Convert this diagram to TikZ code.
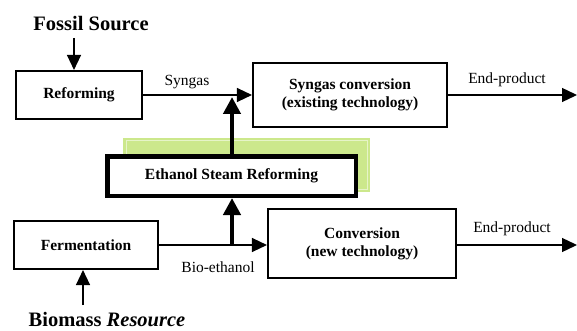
\documentclass[tikz,border=0pt]{standalone}
\usepackage{fontspec}
\setmainfont{Liberation Serif}
\usetikzlibrary{arrows.meta}
\definecolor{leaf}{RGB}{204,232,140}
\definecolor{leaflight}{RGB}{230,244,200}
\begin{document}
\begin{tikzpicture}[x=1pt,y=-1pt,
  box/.style={draw,line width=1.7pt,inner sep=0pt,align=center,font=\fontsize{15.5}{18}\selectfont\bfseries},
  lbl/.style={font=\fontsize{15.5}{18}\selectfont,inner sep=0pt},
  big/.style={font=\fontsize{20.5}{24}\selectfont\bfseries,inner sep=0pt},
  flow/.style={line width=1.3pt,-{Triangle[length=15pt,width=14pt]}},
  heavyflow/.style={line width=4.5pt,-{Triangle[length=17pt,width=17pt]}},
]
\useasboundingbox (0,0) rectangle (577,331);

% green highlight behind the ESR box
\fill[leaf] (123,138) rectangle (370,192);
\draw[leaflight,line width=1pt] (126,141) rectangle (367,189);

\node[box,minimum width=126.4pt,minimum height=48.4pt] (reform) at (79,95) {Reforming};
\node[box,minimum width=194.4pt,minimum height=64.4pt] (sconv) at (350,95) {Syngas conversion\\(existing technology)};
\node[box,line width=4.5pt,fill=white,minimum width=248.5pt,minimum height=39.5pt] (esr) at (231.5,176) {Ethanol Steam Reforming};
\node[box,minimum width=144.4pt,minimum height=48.4pt] (ferm) at (86,245) {Fermentation};
\node[box,minimum width=188.4pt,minimum height=69.4pt] (conv) at (362,243.5) {Conversion\\(new technology)};

\node[big] (fossil) at (91,24) {Fossil Source};
\node[big] (biomass) at (107,320) {Biomass \textit{Resource}};

\node[lbl] (syn) at (187,82) {Syngas};
\node[lbl] (ep1) at (507,80) {End-product};
\node[lbl] (ep2) at (512,229) {End-product};
\node[lbl] (bio) at (218,267) {Bio-ethanol};

\coordinate (fa) at (74,38);
\coordinate (ba) at (83,305);
\coordinate (j1) at (232,97);
\coordinate (j2) at (232,245);
\coordinate (e1) at (577,95);
\coordinate (e2) at (577,245);

\draw[flow] (fa) -- (fa |- reform.north);
\draw[flow] (ba) -- (ba |- ferm.south);
\draw[flow] (reform.east) -- (sconv.west);
\draw[flow] (ferm.east) -- (ferm.east -| conv.west);
\draw[flow] (sconv.east) -- (e1);
\draw[flow] (conv.east |- e2) -- (e2);
\draw[heavyflow] (esr.north -| j1) -- (j1);
\draw[heavyflow] (j2) -- (j2 |- esr.south);
\end{tikzpicture}
\end{document}
